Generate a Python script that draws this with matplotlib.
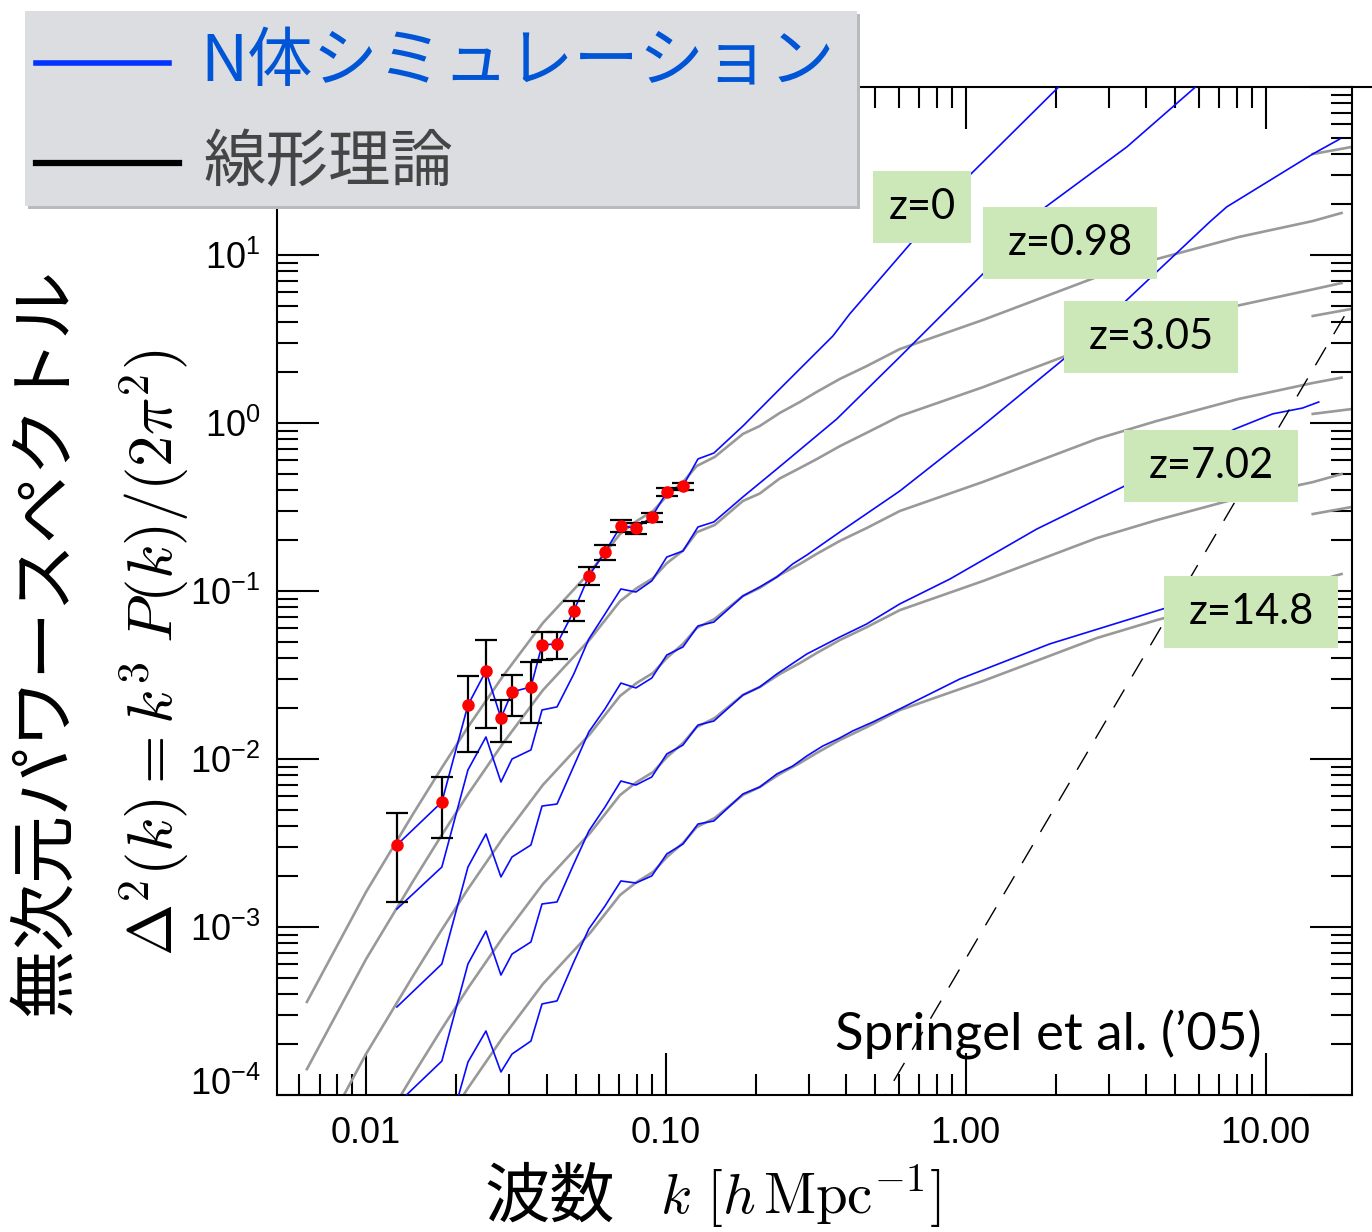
import numpy as np
import matplotlib
matplotlib.use("Agg")
from matplotlib import pyplot as plt
from matplotlib.patches import Rectangle
from matplotlib.lines import Line2D
from matplotlib.ticker import LogLocator, FixedLocator, FuncFormatter, NullFormatter, LogFormatterSciNotation
from matplotlib.transforms import ScaledTranslation

plt.rcParams["font.family"] = ["Liberation Sans", "DejaVu Sans"]
plt.rcParams["axes.unicode_minus"] = False
JP = ["Noto Sans CJK JP", "DejaVu Sans"]
BOXFONT = ["Lato", "DejaVu Sans"]

BLUE = "#0a0aff"
GREY = "#999999"
GREEN = "#cde8b8"

# --- data (log10 k [h/Mpc], log10 Delta^2) ---------------------------------

# measured z=0 spectrum at large scales, with error bar ends
logk_pts = [-1.897, -1.747, -1.660, -1.600, -1.550, -1.513, -1.450, -1.413, -1.363,
            -1.307, -1.257, -1.203, -1.150, -1.100, -1.047, -0.997, -0.943]
logd_pts = [-2.512, -2.256, -1.679, -1.476, -1.756, -1.601, -1.571, -1.321, -1.315,
            -1.119, -0.911, -0.768, -0.613, -0.625, -0.560, -0.411, -0.375]
logd_pts_lo = [-2.851, -2.470, -1.958, -1.815, -1.899, -1.744, -1.786, -1.411, -1.405,
               -1.179, -0.964, -0.815, -0.649, -0.661, -0.589, -0.435, -0.399]
logd_pts_hi = [-2.321, -2.107, -1.506, -1.292, -1.649, -1.500, -1.423, -1.244, -1.244,
               -1.060, -0.857, -0.726, -0.577, -0.595, -0.536, -0.387, -0.357]

# N-body bins shared by all snapshots
logk_bins = logk_pts + [-0.893, -0.840]

# N-body spectra
nb_z0_bins = logd_pts + [-0.214, -0.179]
nb_z0_logk = [-0.743, -0.630, -0.443, -0.387, -0.180, 0.017, 0.313, 0.380]
nb_z0_logd = [-0.018, 0.185, 0.518, 0.649, 1.077, 1.482, 2.006, 2.119]

nb_z098_bins = [-2.893, -2.643, -2.065, -1.869, -2.137, -2.000, -1.946, -1.708, -1.690, -1.494,
                -1.286, -1.137, -0.988, -1.006, -0.940, -0.798, -0.762, -0.619, -0.589]
nb_z098_logk = [-0.743, -0.630, -0.430, -0.220, 0.057, 0.257, 0.537, 0.770, 0.830]
nb_z098_logd = [-0.440, -0.274, 0.024, 0.393, 0.887, 1.274, 1.643, 2.006, 2.095]

nb_z305_bins = [-3.476, -3.220, -2.643, -2.446, -2.702, -2.583, -2.512, -2.280, -2.268, -2.042,
                -1.839, -1.702, -1.548, -1.577, -1.518, -1.381, -1.333, -1.208, -1.185]
nb_z305_logk = [-0.743, -0.687, -0.630, -0.577, -0.530, -0.420, -0.220, 0.047, 0.327, 0.537,
                0.813, 0.870, 1.157, 1.247]
nb_z305_logd = [-1.030, -0.976, -0.917, -0.839, -0.786, -0.649, -0.405, -0.030, 0.381, 0.732,
                1.196, 1.286, 1.601, 1.690]

nb_z702_bins = [-4.054, -3.798, -3.220, -3.024, -3.286, -3.161, -3.089, -2.863, -2.851, -2.625,
                -2.429, -2.286, -2.131, -2.155, -2.107, -1.970, -1.917, -1.798, -1.774]
nb_z702_logk = [-0.743, -0.687, -0.630, -0.530, -0.420, -0.330, -0.220, -0.053, 0.237, 0.523,
                0.897, 1.023, 1.123, 1.177]
nb_z702_logd = [-1.619, -1.571, -1.494, -1.375, -1.274, -1.196, -1.077, -0.929, -0.631, -0.381,
                -0.036, 0.054, 0.089, 0.125]

nb_z148_bins = [-4.649, -4.357, -3.804, -3.619, -3.863, -3.756, -3.679, -3.458, -3.440, -3.208,
                -3.012, -2.875, -2.726, -2.738, -2.696, -2.565, -2.506, -2.387, -2.369]
nb_z148_logk = [-0.743, -0.687, -0.630, -0.577, -0.530, -0.477, -0.420, -0.377, -0.310, -0.220,
                -0.020, 0.280, 0.657, 0.913]
nb_z148_logd = [-2.208, -2.167, -2.089, -2.042, -1.982, -1.923, -1.875, -1.833, -1.780, -1.702,
                -1.524, -1.315, -1.107, -0.940]

# linear theory
logk_lin = [-2.197, -2.000, -1.843, -1.750, -1.660, -1.543, -1.410, -1.253, -1.153, -1.097,
            -1.043, -0.997, -0.943, -0.897, -0.837, -0.743, -0.687, -0.620, -0.553, -0.497,
            -0.420, -0.330, -0.220, 0.057, 0.437, 0.637, 0.910, 1.157, 1.253]
lin_z0 = [-3.446, -2.792, -2.327, -2.060, -1.810, -1.506, -1.190, -0.887, -0.661, -0.583,
          -0.524, -0.435, -0.351, -0.256, -0.202, -0.065, -0.018, 0.060, 0.125, 0.185,
          0.262, 0.339, 0.440, 0.613, 0.869, 0.976, 1.107, 1.202, 1.250]
lin_z098 = [-3.846, -3.192, -2.727, -2.460, -2.210, -1.906, -1.590, -1.287, -1.061, -0.983,
            -0.924, -0.835, -0.760, -0.650, -0.607, -0.464, -0.420, -0.330, -0.268, -0.215,
            -0.138, -0.058, 0.041, 0.213, 0.469, 0.574, 0.700, 0.795, 0.833]
lin_z305 = [-4.410, -3.756, -3.291, -3.024, -2.774, -2.470, -2.154, -1.851, -1.625, -1.547,
            -1.488, -1.399, -1.315, -1.220, -1.166, -1.029, -0.982, -0.904, -0.839, -0.779,
            -0.702, -0.625, -0.524, -0.351, -0.095, 0.012, 0.143, 0.238, 0.270]
lin_z702 = [-5.000, -4.346, -3.881, -3.614, -3.364, -3.060, -2.744, -2.441, -2.215, -2.137,
            -2.078, -1.989, -1.905, -1.810, -1.756, -1.619, -1.572, -1.494, -1.429, -1.369,
            -1.292, -1.215, -1.114, -0.941, -0.685, -0.578, -0.447, -0.352, -0.304]
lin_z148 = [-5.595, -4.941, -4.476, -4.209, -3.959, -3.655, -3.339, -3.036, -2.810, -2.732,
            -2.673, -2.584, -2.500, -2.405, -2.351, -2.214, -2.167, -2.089, -2.024, -1.964,
            -1.887, -1.810, -1.709, -1.536, -1.280, -1.173, -1.042, -0.947, -0.899]

# short linear-theory pieces at the small-scale end
logk_stub = [1.157, 1.287]
stubs = [[1.601, 1.643], [0.637, 0.679], [0.054, 0.083], [-0.542, -0.500]]

# shot noise limit
logk_shot = [-0.301, 1.301]
logd_shot = [-4.101, 0.753]

redshift_labels = ["z=0", "z=0.98", "z=3.05", "z=7.02", "z=14.8"]

# --- figure -----------------------------------------------------------------

fig = plt.figure(figsize=(13.72, 12.32), dpi=100)
ax = fig.add_axes([0.2019, 0.1112, 0.7835, 0.8182])
ax.set_xscale("log")
ax.set_yscale("log")
ax.set_xlim(0.00505, 19.4)
ax.set_ylim(1e-4, 1e2)


def p(logk, logd):
    return 10 ** np.asarray(logk), 10 ** np.asarray(logd)


for lin in [lin_z0, lin_z098, lin_z305, lin_z702, lin_z148]:
    ax.plot(*p(logk_lin, lin), color=GREY, lw=1.9, zorder=2)
for s in stubs:
    ax.plot(*p(logk_stub, s), color=GREY, lw=1.9, zorder=2)

for bins, tk, td in [(nb_z0_bins, nb_z0_logk, nb_z0_logd),
                     (nb_z098_bins, nb_z098_logk, nb_z098_logd),
                     (nb_z305_bins, nb_z305_logk, nb_z305_logd),
                     (nb_z702_bins, nb_z702_logk, nb_z702_logd),
                     (nb_z148_bins, nb_z148_logk, nb_z148_logd)]:
    ax.plot(*p(logk_bins + tk, bins + td), color=BLUE, lw=1.2, zorder=3)

shot, = ax.plot(*p(logk_shot, logd_shot), color="black", lw=1.0, zorder=3)
shot.set_dashes([15, 11])

kp, dp = p(logk_pts, logd_pts)
lo = 10 ** np.asarray(logd_pts_lo)
hi = 10 ** np.asarray(logd_pts_hi)
ax.errorbar(kp, dp, yerr=[dp - lo, hi - dp], fmt="o", color="red", ms=8,
            ecolor="black", elinewidth=1.6, capsize=8, capthick=1.6, zorder=5)

# axes styling
for sp in ax.spines.values():
    sp.set_linewidth(1.5)
sci = LogFormatterSciNotation()
ax.xaxis.set_major_locator(FixedLocator([0.01, 0.1, 1.0, 10.0]))
ax.xaxis.set_minor_locator(LogLocator(base=10, subs=np.arange(2, 10), numticks=100))
ax.xaxis.set_major_formatter(FuncFormatter(lambda v, pos: f"{v:.2f}"))
ax.xaxis.set_minor_formatter(NullFormatter())
ax.yaxis.set_major_locator(FixedLocator([1e-4, 1e-3, 1e-2, 1e-1, 1e0, 1e1, 1e2]))
ax.yaxis.set_minor_locator(LogLocator(base=10, subs=np.arange(2, 10), numticks=100))
# the 10^2 label sits under the legend panel
ax.yaxis.set_major_formatter(FuncFormatter(lambda v, pos: "" if v > 50 else sci(v, pos)))
ax.yaxis.set_minor_formatter(NullFormatter())
ax.tick_params(which="both", direction="in", top=True, right=True, width=1.5)
ax.tick_params(which="major", length=30, labelsize=26)
ax.tick_params(which="minor", length=15)
ax.tick_params(axis="x", which="major", pad=15)
ax.tick_params(axis="y", which="major", pad=12)

bottom_tick = ax.yaxis.get_major_ticks()[0]
bottom_tick.label1.set_transform(bottom_tick.label1.get_transform()
                                 + ScaledTranslation(0, 0.14, fig.dpi_scale_trans))

# redshift tags
tag_boxes = [(0.5544, 0.8452, 0.0912), (0.6567, 0.8095, 0.1619), (0.7321, 0.7163, 0.1619),
             (0.7879, 0.5883, 0.1619), (0.8251, 0.4435, 0.1619)]
for label, (x0, y0, w) in zip(redshift_labels, tag_boxes):
    h = 0.0714
    ax.add_patch(Rectangle((x0, y0), w, h, transform=ax.transAxes, facecolor=GREEN,
                           edgecolor="none", zorder=6, clip_on=False))
    ax.text(x0 + w / 2, y0 + h / 2, label, transform=ax.transAxes, ha="center",
            va="center", fontsize=30, family=BOXFONT, zorder=7)

ax.text(0.519, 0.0446, "Springel et al. (\u201905)", transform=ax.transAxes,
        fontsize=38, family=BOXFONT, va="baseline", ha="left", zorder=7)

# axis titles
fig.text(0.0343, 0.4789, "無次元パワースペクトル", rotation=90, ha="center", va="center",
         fontsize=49, family=JP)
fig.text(0.1130, 0.4705, r"$\Delta^2(k) = k^3\;P(k)/(2\pi^2)$", rotation=90,
         ha="center", va="center", fontsize=45, math_fontfamily="cm")
fig.text(0.4009, 0.0276, "波数", ha="center", va="center", fontsize=47, family=JP)
fig.text(0.481, 0.0292, r"$k\ [h\,\mathrm{Mpc}^{-1}]$", ha="left", va="center",
         fontsize=41, math_fontfamily="cm")

# top frame line running to the edge
fig.add_artist(Line2D([0.9854, 1.0], [0.9294, 0.9294], color="black", lw=1.5))

# legend panel
fig.add_artist(Rectangle((0.0204, 0.8304), 0.6064, 0.1583, transform=fig.transFigure,
                         facecolor="#b9babd", edgecolor="none", zorder=10))
fig.add_artist(Rectangle((0.0182, 0.8328), 0.6064, 0.1583, transform=fig.transFigure,
                         facecolor="#dcdde0", edgecolor="none", zorder=11))
fig.add_artist(Line2D([0.0262, 0.1232], [0.9489, 0.9489], color="#0033ff", lw=4, zorder=12))
fig.add_artist(Line2D([0.0262, 0.1305], [0.8677, 0.8677], color="black", lw=4.5, zorder=12))
fig.text(0.1458, 0.9489, "N体シミュレーション", ha="left", va="center", fontsize=47,
         family=JP, color="#0055d6", zorder=12)
fig.text(0.148, 0.868, "線形理論", ha="left", va="center", fontsize=45,
         family=JP, color="#454545", zorder=12)

fig.savefig("out.png", dpi=100)
